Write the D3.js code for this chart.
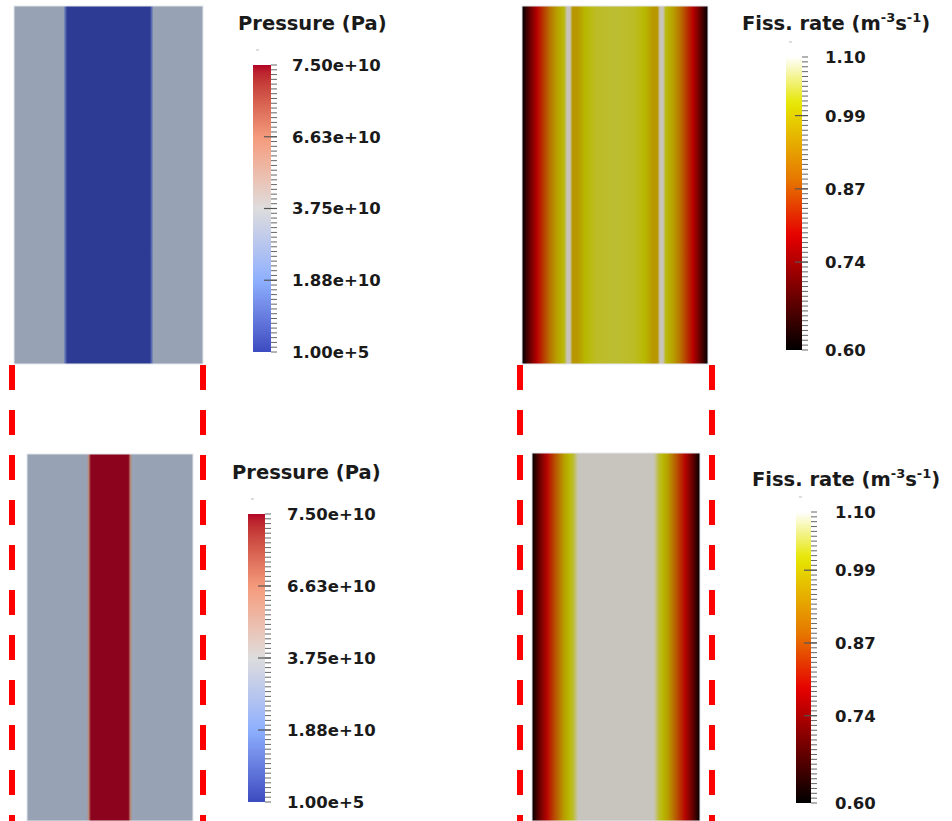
<!DOCTYPE html>
<html>
<head>
<meta charset="utf-8">
<script src="https://cdn.jsdelivr.net/npm/d3@7"></script>
<style>
  body { margin: 0; background: #fff; }
  text { font-family: "DejaVu Sans", sans-serif; font-weight: 700; fill: #1a1a1a; }
</style>
</head>
<body>
<div id="Chart"></div>
<script>
var w = 952;
var h = 821;

// colour bar ticks and their printed labels
var pressRange = [1e5, 7.5e10];
var pressTicks = [1e5, 1.875e10, 3.75e10, 5.625e10, 7.5e10];
var pressTickLabels = ["1.00e+5", "1.88e+10", "3.75e+10", "6.63e+10", "7.50e+10"];

var fissRange = [0.60, 1.10];
var fissTicks = [0.60, 0.75, 0.875, 1.00, 1.10];
var fissTickLabels = ["0.60", "0.74", "0.87", "0.99", "1.10"];

// profiles across each slab (0 = left edge, 1 = right edge), null = not in field
var pressTopX = [0, 0.262, 0.272, 0.282, 0.718, 0.728, 0.738, 1];
var pressTopV = [null, null, 1.2e10, 1e5, 1e5, 1.2e10, null, null];

var pressBotX = [0, 0.36, 0.372, 0.385, 0.61, 0.623, 0.635, 1];
var pressBotV = [null, null, 5.0e10, 7.5e10, 7.5e10, 5.0e10, null, null];

var fissTopX = [0, 0.04, 0.08, 0.12, 0.15, 0.185, 0.21, 0.228, 0.242, 0.258, 0.272, 0.30, 0.34, 0.40, 0.50,
                0.60, 0.66, 0.70, 0.728, 0.742, 0.758, 0.772, 0.79, 0.815, 0.85, 0.88, 0.92, 0.96, 1];
var fissTopV = [0.60, 0.70, 0.795, 0.86, 0.92, 0.98, 1.01, 1.03, null, null, 0.97, 0.975, 1.02, 1.035, 1.04,
                1.035, 1.02, 0.975, 0.97, null, null, 1.03, 1.01, 0.98, 0.92, 0.86, 0.795, 0.70, 0.60];

var fissBotX = [0, 0.04, 0.09, 0.14, 0.19, 0.22, 0.245, 0.275, 0.725, 0.755, 0.78, 0.81, 0.86, 0.91, 0.96, 1];
var fissBotV = [0.60, 0.70, 0.80, 0.88, 0.98, 1.02, 1.04, null, null, 1.04, 1.02, 0.98, 0.88, 0.80, 0.70, 0.60];

var svg, defs;

function shade(c, k) {
    var r = d3.rgb(c);
    return d3.rgb(r.r * k, r.g * k, r.b * k).formatHex();
}

function drawPanel(id, box, xs, vs, cmap, nanColor, k) {
    var xPos = d3.scaleLinear().domain([0, 1]).range([0, 100]);
    var grad = defs.append("linearGradient").attr("id", id)
        .attr("x1", "0%").attr("x2", "100%").attr("y1", "0%").attr("y2", "0%");
    grad.selectAll("stop")
        .data(xs)
        .enter()
        .append("stop")
        .attr("offset", function(d){ return xPos(d) + "%"; })
        .attr("stop-color", function(d, i){
            return vs[i] === null ? nanColor : shade(cmap(vs[i]), k);
        });
    svg.append("rect")
        .attr("x", box.x).attr("y", box.y)
        .attr("width", box.w).attr("height", box.h)
        .attr("fill", "url(#" + id + ")")
        .attr("stroke", "#e4e6ec")
        .attr("stroke-width", 1);
}

function drawBar(id, bar, domain, cmap, ticks, labels) {
    var t = d3.scaleLinear().domain([0, 1]).range(domain);
    var grad = defs.append("linearGradient").attr("id", id)
        .attr("x1", "0%").attr("x2", "0%").attr("y1", "100%").attr("y2", "0%");
    grad.selectAll("stop")
        .data(d3.range(0, 1.0001, 0.025))
        .enter()
        .append("stop")
        .attr("offset", function(d){ return d * 100 + "%"; })
        .attr("stop-color", function(d){ return cmap(t(d)); });

    svg.append("rect")
        .attr("x", bar.x).attr("y", bar.y)
        .attr("width", bar.w).attr("height", bar.h)
        .attr("fill", "url(#" + id + ")");

    var y = d3.scaleLinear().domain(domain).range([bar.y + bar.h, bar.y]);
    var yMinor = d3.scaleLinear().domain([0, 60]).range([bar.y + bar.h, bar.y]);
    var g = svg.append("g");

    g.selectAll("line.minor")
        .data(d3.range(61))
        .enter()
        .append("line")
        .attr("class", "minor")
        .attr("x1", bar.x + bar.w).attr("x2", bar.x + bar.w + 6)
        .attr("y1", function(d){ return yMinor(d); })
        .attr("y2", function(d){ return yMinor(d); })
        .attr("stroke", "#666").attr("stroke-width", 1);

    g.selectAll("line.major")
        .data(ticks.slice(1, ticks.length - 1))
        .enter()
        .append("line")
        .attr("class", "major")
        .attr("x1", bar.x + bar.w - 7).attr("x2", bar.x + bar.w + 6)
        .attr("y1", function(d){ return y(d); })
        .attr("y2", function(d){ return y(d); })
        .attr("stroke", "#555").attr("stroke-width", 1.2);

    // small mark above the bar
    g.append("line")
        .attr("x1", bar.x + 3).attr("x2", bar.x + 6)
        .attr("y1", bar.y - 15).attr("y2", bar.y - 15)
        .attr("stroke", "#bbb").attr("stroke-width", 1);

    g.selectAll("text")
        .data(ticks)
        .enter()
        .append("text")
        .attr("x", bar.lx)
        .attr("y", function(d){ return y(d); })
        .attr("dy", "0.36em")
        .style("font-size", "16.5px")
        .text(function(d, i){ return labels[i]; });
}

function pressTitle(x, y) {
    svg.append("text").attr("x", x).attr("y", y)
        .style("font-size", "19.5px")
        .text("Pressure (Pa)");
}

function fissTitle(x, y) {
    var t = svg.append("text").attr("x", x).attr("y", y).style("font-size", "19.5px");
    t.append("tspan").text("Fiss. rate (m");
    t.append("tspan").attr("dy", -8).style("font-size", "13px").text("-3");
    t.append("tspan").attr("dy", 8).text("s");
    t.append("tspan").attr("dy", -8).style("font-size", "13px").text("-1");
    t.append("tspan").attr("dy", 8).text(")");
}

function doChart()
{
    svg = d3.select("#Chart").append("svg")
        .attr("width", w)
        .attr("height", h);
    defs = svg.append("defs");

    var pressMap = d3.scaleLinear()
        .domain([1e5, 1.875e10, 3.75e10, 5.625e10, 7.5e10])
        .range(["#3b4cc0", "#8db0fe", "#dddddd", "#f49a7b", "#b40426"])
        .interpolate(d3.interpolateLab)
        .clamp(true);

    var fissMap = d3.scaleLinear()
        .domain([0.60, 0.795, 0.89, 1.02, 1.10])
        .range(["#000000", "#e60000", "#e67600", "#e6e600", "#ffffff"])
        .clamp(true);

    // slabs
    drawPanel("pt", {x: 14, y: 6, w: 189, h: 358}, pressTopX, pressTopV, pressMap, "#97a3b5", 0.77);
    drawPanel("pb", {x: 27, y: 454, w: 166, h: 367}, pressBotX, pressBotV, pressMap, "#97a3b5", 0.77);
    drawPanel("ft", {x: 522, y: 6, w: 186, h: 358}, fissTopX, fissTopV, fissMap, "#c8c4bc", 0.8);
    drawPanel("fb", {x: 532, y: 453, w: 168, h: 368}, fissBotX, fissBotV, fissMap, "#c8c5be", 0.8);

    // colour bars
    pressTitle(238, 30);
    drawBar("cpt", {x: 253, y: 65, w: 18, h: 287, lx: 292}, pressRange, pressMap, pressTicks, pressTickLabels);
    pressTitle(232, 479);
    drawBar("cpb", {x: 248, y: 514, w: 17, h: 288, lx: 287}, pressRange, pressMap, pressTicks, pressTickLabels);
    fissTitle(742, 30);
    drawBar("cft", {x: 786, y: 57, w: 16, h: 293, lx: 825}, fissRange, fissMap, fissTicks, fissTickLabels);
    fissTitle(752, 486);
    drawBar("cfb", {x: 796, y: 512, w: 15, h: 291, lx: 835}, fissRange, fissMap, fissTicks, fissTickLabels);

    // red dashed guides
    svg.selectAll("line.guide")
        .data([12, 203, 520, 712])
        .enter()
        .append("line")
        .attr("class", "guide")
        .attr("x1", function(d){ return d; })
        .attr("x2", function(d){ return d; })
        .attr("y1", 365).attr("y2", h)
        .attr("stroke", "#ff0000")
        .attr("stroke-width", 6)
        .attr("stroke-dasharray", "25,20");
}

doChart();
</script>
</body>
</html>
